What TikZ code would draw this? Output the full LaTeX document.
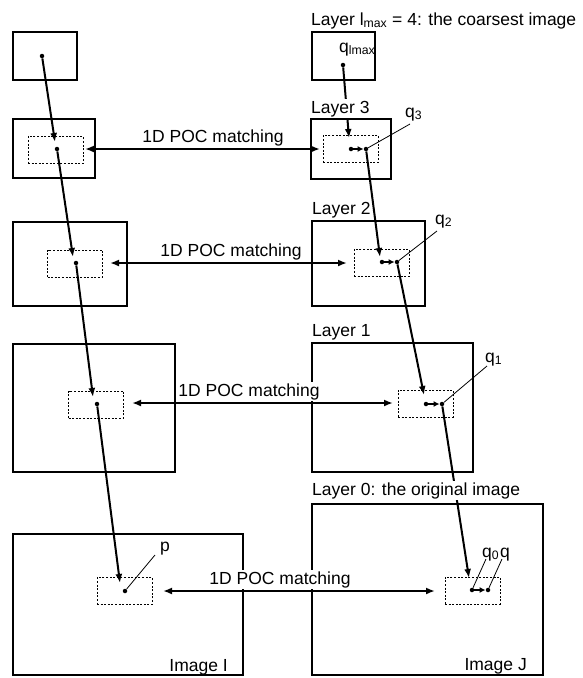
\documentclass[tikz,border=0pt]{standalone}
\usepackage{fontspec}
\setmainfont{Liberation Sans}
\usetikzlibrary{arrows.meta}
\begin{document}
\begin{tikzpicture}[x=1pt,y=-1pt,
  box/.style={draw, line width=1.6pt, inner sep=0pt},
  win/.style={draw, line width=0.9pt, dash pattern=on 2pt off 1.6pt, minimum width=55pt, minimum height=27pt, inner sep=0pt},
  big/.style={line width=2pt, -{Latex[length=9pt,width=7pt]}},
  both/.style={line width=2pt, {Latex[length=9pt,width=7pt]}-{Latex[length=9pt,width=7pt]}},
  small/.style={line width=2pt, -{Latex[length=6pt,width=6pt]}},
  lead/.style={line width=0.8pt},
  txt/.style={font=\fontsize{17.5}{21}\selectfont, inner sep=0pt},
  lbl/.style={txt, fill=white, inner xsep=0pt, inner ysep=1.5pt},
  poc/.style={txt, fill=white, inner xsep=1pt, inner ysep=1pt},
  dot/.style={circle, fill, inner sep=0pt, minimum size=4.5pt}
]
\useasboundingbox (0,0) rectangle (582,678);

% outer boxes, left (image I pyramid)
\node[box, minimum width=64pt,  minimum height=48pt]  (LA4) at (45,56) {};
\node[box, minimum width=82pt,  minimum height=59pt]  (LA3) at (54,148.5) {};
\node[box, minimum width=114pt, minimum height=84pt]  (LA2) at (70,264) {};
\node[box, minimum width=162pt, minimum height=128pt] (LA1) at (94,408) {};
\node[box, minimum width=230pt, minimum height=141pt] (LA0) at (128,604.5) {};
% outer boxes, right (image J pyramid)
\node[box, minimum width=63pt,  minimum height=48pt]  (RB4) at (343.5,56) {};
\node[box, minimum width=80pt,  minimum height=60pt]  (RB3) at (351,149) {};
\node[box, minimum width=113pt, minimum height=85pt]  (RB2) at (368.5,263.5) {};
\node[box, minimum width=161pt, minimum height=129pt] (RB1) at (392.5,407.5) {};
\node[box, minimum width=231pt, minimum height=171pt] (RB0) at (427.5,589.5) {};

% dashed search windows
\node[win] (d3) at (55.5,150) {};
\node[win] (d2) at (75,263.5) {};
\node[win] (d1) at (96,404.5) {};
\node[win] (d0) at (124.5,591) {};
\node[win] (e3) at (350.5,149) {};
\node[win] (e2) at (381.5,263) {};
\node[win] (e1) at (425.5,403.5) {};
\node[win] (e0) at (472.5,590.5) {};

% dots
\node[dot] (a4) at (42,56) {};
\node[dot] (a3) at (57,149) {};
\node[dot] (a2) at (76,263) {};
\node[dot] (a1) at (97,404) {};
\node[dot] (p)  at (125,591) {};
\node[dot] (b4)  at (343,65) {};
\node[dot] (b3l) at (351,149) {};
\node[dot] (b3)  at (366,149) {};
\node[dot] (b2l) at (382,262) {};
\node[dot] (b2)  at (397,262) {};
\node[dot] (b1l) at (426,404) {};
\node[dot] (b1)  at (442,404) {};
\node[dot] (b0l) at (472,590) {};
\node[dot] (b0)  at (488,590) {};

% arrow tips
\coordinate (a3t) at (55,142);
\coordinate (a2t) at (73,257);
\coordinate (a1t) at (93,397);
\coordinate (a0t) at (120,583);
\coordinate (b3t) at (349,138);
\coordinate (b2t) at (380,257);
\coordinate (b1t) at (424,395);
\coordinate (b0t) at (469,578);

% vertical propagation arrows
\draw[big] (a4) -- (a3t);
\draw[big] (a3) -- (a2t);
\draw[big] (a2) -- (a1t);
\draw[big] (a1) -- (a0t);
\draw[big] (b4) -- (b3t);
\draw[big] (b3) -- (b2t);
\draw[big] (b2) -- (b1t);
\draw[big] (b1) -- (b0t);

% small shift arrows
\draw[small] (b3l) -- (b3);
\draw[small] (b2l) -- (b2);
\draw[small] (b1l) -- (b1);
\draw[small] (b0l) -- (b0);

% layer labels
\node[lbl, anchor=base west] (t4) at (311,25) {Layer l\textsubscript{max} = 4: the coarsest image};
\node[lbl, anchor=base west] (t3) at (311,113) {Layer 3};
\node[lbl, anchor=base west] (t2) at (312,214) {Layer 2};
\node[lbl, anchor=base west] (t1) at (312,336) {Layer 1};
\node[lbl, anchor=base west] (t0) at (312,495) {Layer 0: the original image};

% matching labels
\node[poc, anchor=base] (m3) at (213,142) {1D POC matching};
\node[poc, anchor=base] (m2) at (231,256) {1D POC matching};
\node[poc, anchor=base] (m1) at (249,396) {1D POC matching};
\node[poc, anchor=base] (m0) at (280,584) {1D POC matching};

% matching arrows
\coordinate (h3l) at (85,149);  \coordinate (h3r) at (320,149);
\coordinate (h2l) at (110,263); \coordinate (h2r) at (347,263);
\coordinate (h1l) at (132,403); \coordinate (h1r) at (393,403);
\coordinate (h0l) at (163,591); \coordinate (h0r) at (435,591);
\draw[both] (h3l) -- (h3r);
\draw[both] (h2l) -- (h2r);
\draw[both] (h1l) -- (h1r);
\draw[both] (h0l) -- (h0r);

% point labels and leader lines
\node[txt, anchor=base west] (qmax) at (339,52) {q\textsubscript{lmax}};
\node[txt, anchor=base west] (q3) at (405,117) {q\textsubscript{3}};
\node[txt, anchor=base west] (q2) at (435,224) {q\textsubscript{2}};
\node[txt, anchor=base west] (q1) at (485,362) {q\textsubscript{1}};
\node[txt, anchor=base west] (q0) at (482,557) {q\textsubscript{0}};
\node[txt, anchor=base west] (qq) at (500,557) {q};
\node[txt, anchor=base west] (pl) at (160,551) {p};
\coordinate (l3) at (410,124);
\coordinate (l2) at (437,231);
\coordinate (l1) at (487,366);
\coordinate (l0) at (486,559);
\coordinate (lq) at (502,559);
\coordinate (lp) at (155,555);
\draw[lead] (b3) -- (l3);
\draw[lead] (b2) -- (l2);
\draw[lead] (b1) -- (l1);
\draw[lead] (b0l) -- (l0);
\draw[lead] (b0) -- (lq);
\draw[lead] (p) -- (lp);

% image names
\node[txt, anchor=base east] (imI) at (228,671) {Image I};
\node[txt, anchor=base east] (imJ) at (527,670) {Image J};
\end{tikzpicture}
\end{document}
